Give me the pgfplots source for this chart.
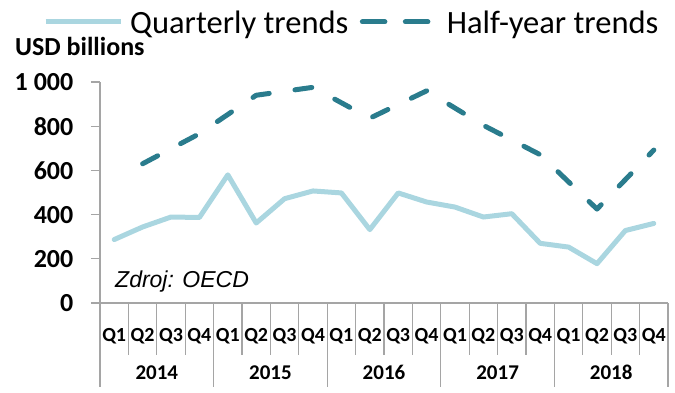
\documentclass[border=0pt]{standalone}
\usepackage{fontspec}
\setmainfont{Carlito}
\newfontfamily\arialfont{Liberation Sans}
\usepackage{pgfplots}
\pgfplotsset{compat=1.18}
\definecolor{qblue}{RGB}{170,214,224}
\definecolor{hteal}{RGB}{42,124,141}
\definecolor{axgrey}{RGB}{165,165,165}
\pgfplotsset{
  qleg/.style={legend image code/.code={\draw[##1, line cap=butt] (0pt,0pt) -- (75pt,0pt);}},
  hleg/.style={legend image code/.code={\draw[##1, dash pattern=on 20pt off 23pt] (2.5pt,0pt) -- (66pt,0pt);\path (0pt,0pt) -- (75pt,0pt);}},
}

\begin{document}
\begin{tikzpicture}
\useasboundingbox (-100pt,-90pt) rectangle (575pt,303pt);
\begin{axis}[
  at={(0pt,0pt)}, anchor=south west,
  scale only axis, width=568pt, height=221pt,
  xmin=-0.5, xmax=19.5, ymin=0, ymax=1000,
  clip=false,
  axis x line=bottom, axis y line=left,
  axis line style={-, draw=axgrey, line width=1.2pt},
  ytick={0,200,400,600,800,1000},
  yticklabels={0,200,400,600,800,1 000},
  major tick length=9pt, tick align=outside,
  ytick style={draw=axgrey, line width=1.2pt},
  yticklabel style={font=\fontsize{26}{26}\selectfont\bfseries, anchor=east, inner sep=0pt, xshift=-17.5pt},
  xtick={0,...,19},
  xticklabels={Q1,Q2,Q3,Q4,Q1,Q2,Q3,Q4,Q1,Q2,Q3,Q4,Q1,Q2,Q3,Q4,Q1,Q2,Q3,Q4},
  xtick style={draw=none},
  xticklabel style={font=\fontsize{20}{20}\selectfont\bfseries, anchor=base, inner sep=0pt, yshift=-30pt},
  legend style={draw=none, fill=none, at={(-0.1004,1.2715)}, anchor=west, inner sep=0pt,
    font=\fontsize{32.5}{32.5}\selectfont, legend columns=2,
    nodes={inner sep=0pt, text depth=0pt},
    /tikz/every odd column/.append style={column sep=7pt},
    /tikz/every even column/.append style={column sep=11.5pt}},
]
\addplot[qblue, line width=5pt, line join=round, line cap=round, qleg]
  coordinates {
  (0,287) (1,344) (2,389) (3,387) (4,580) (5,362) (6,472) (7,507) (8,498) (9,332)
  (10,498) (11,457) (12,434) (13,389) (14,404) (15,270) (16,253) (17,178) (18,328) (19,360)
  };
\addlegendentry{Quarterly trends}
\addplot[hteal, line width=5pt, line join=round, line cap=round, dash pattern=on 17pt off 26pt, hleg]
  coordinates {
  (1,630) (3,766) (5,940) (7,976) (9,836) (11,960) (13,804) (15,671) (17,425) (19,692)
  };
\addlegendentry{Half-year trends}
\pgfplotsinvokeforeach{0.5,1.5,2.5,4.5,5.5,6.5,8.5,9.5,10.5,12.5,13.5,14.5,16.5,17.5,18.5}{
  \draw[axgrey, line width=1.2pt] (axis cs:#1,0) -- ++(0pt,-52pt);
}
\pgfplotsinvokeforeach{-0.5,3.5,7.5,11.5,15.5,19.5}{
  \draw[axgrey, line width=1.2pt] (axis cs:#1,0) -- ++(0pt,-84pt);
}
\node[font=\fontsize{21}{21}\selectfont\bfseries, anchor=base, inner sep=0pt] at ([yshift=-77pt]axis cs:1.5,0) {2014};
\node[font=\fontsize{21}{21}\selectfont\bfseries, anchor=base, inner sep=0pt] at ([yshift=-77pt]axis cs:5.5,0) {2015};
\node[font=\fontsize{21}{21}\selectfont\bfseries, anchor=base, inner sep=0pt] at ([yshift=-77pt]axis cs:9.5,0) {2016};
\node[font=\fontsize{21}{21}\selectfont\bfseries, anchor=base, inner sep=0pt] at ([yshift=-77pt]axis cs:13.5,0) {2017};
\node[font=\fontsize{21}{21}\selectfont\bfseries, anchor=base, inner sep=0pt] at ([yshift=-77pt]axis cs:17.5,0) {2018};
\end{axis}
\node[anchor=base west, inner sep=0pt, font=\fontsize{26}{26}\selectfont\bfseries] at (-85pt,247pt) {USD billions};
\node[anchor=base west, inner sep=0pt, font=\arialfont\itshape\fontsize{23}{23}\selectfont] at (15pt,15pt) {Zdroj: OECD};
\end{tikzpicture}
\end{document}
